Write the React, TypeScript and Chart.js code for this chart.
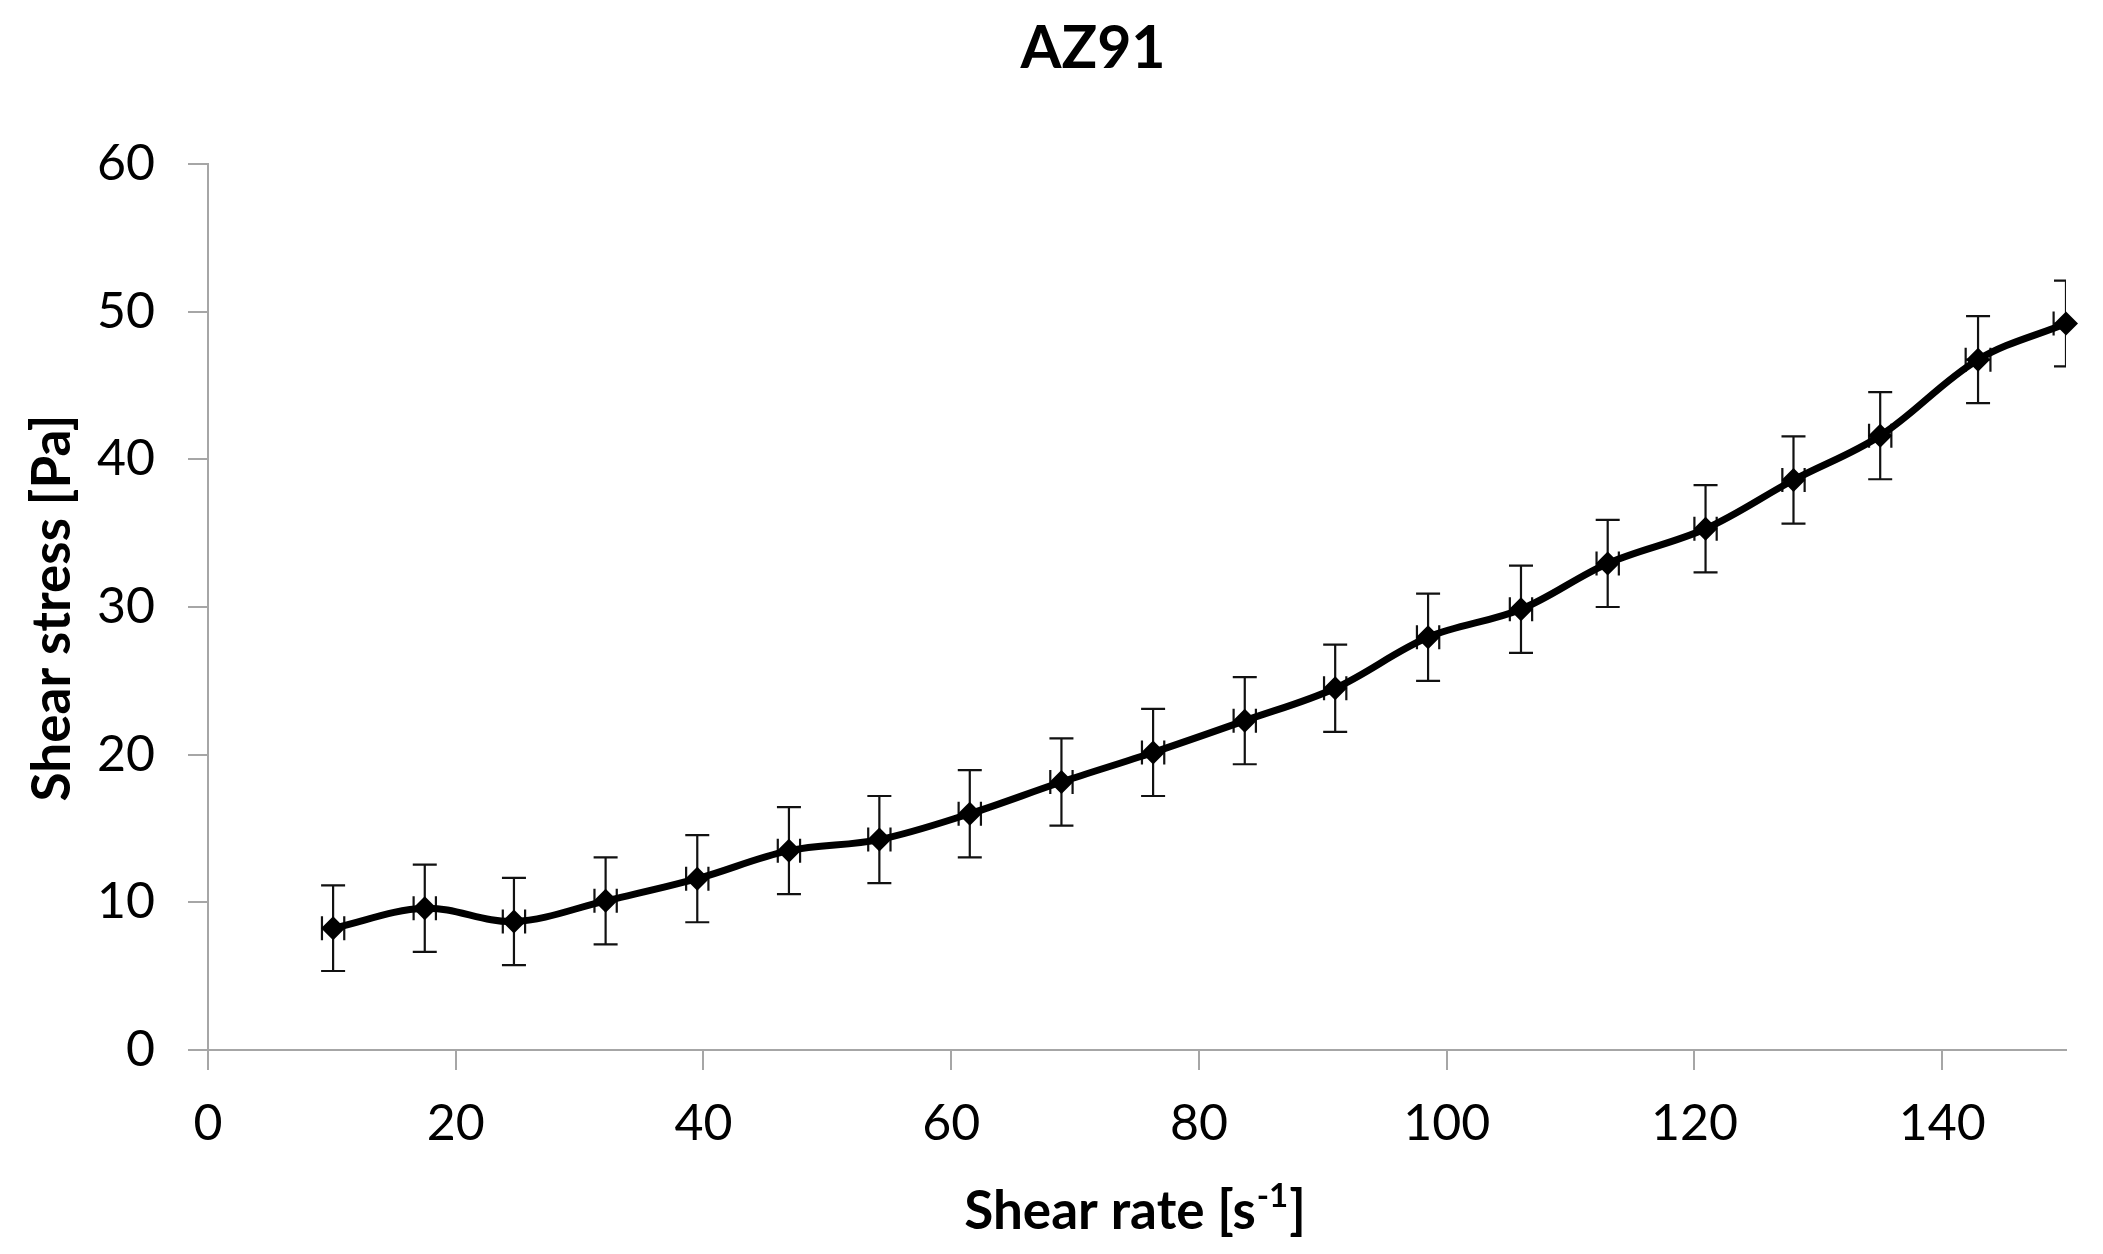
import React, { useEffect, useRef } from 'react';
import { Chart, registerables } from 'chart.js';

Chart.register(...registerables);

// ---- data ----
const shearRate = [10.1, 17.5, 24.7, 32.1, 39.5, 46.9, 54.2, 61.5, 68.9, 76.3, 83.7, 91.0, 98.5, 106.0, 113.0, 120.9, 128.0, 135.0, 142.9, 150.0];
const shearStress = [8.25, 9.6, 8.7, 10.1, 11.6, 13.5, 14.25, 16.0, 18.15, 20.15, 22.3, 24.5, 27.95, 29.85, 32.95, 35.3, 38.6, 41.6, 46.75, 49.2];
const stressErr = [2.9, 2.95, 2.95, 2.95, 2.95, 2.95, 2.95, 2.95, 2.95, 2.95, 2.95, 2.95, 2.95, 2.95, 2.95, 2.95, 2.95, 2.95, 2.95, 2.9];
const rateErr = [0.9, 0.9, 0.9, 0.9, 0.9, 0.9, 0.9, 0.9, 0.9, 0.9, 0.9, 0.9, 0.9, 0.9, 0.9, 0.9, 0.9, 0.9, 1.0, 1.0];

const chartTitle = 'AZ91';
const yTitle = 'Shear stress [Pa]';
const xTitleMain = 'Shear rate [s';
const xTitleSup = '-1';
const xTitleEnd = ']';

const xTickStep = 20;
const yTickStep = 10;

const FONT = 'Lato, "Open Sans", "Noto Sans", sans-serif';
const AXIS_GRAY = '#a6a6a6';

const errorBarPlugin = {
  id: 'errorBars',
  beforeDatasetsDraw(chart: any) {
    const { ctx, chartArea, scales } = chart;
    const xs = scales.x;
    const ys = scales.y;
    ctx.save();
    ctx.beginPath();
    ctx.rect(chartArea.left, chartArea.top, chartArea.right - chartArea.left, chartArea.bottom - chartArea.top);
    ctx.clip();
    ctx.strokeStyle = '#111';
    ctx.lineWidth = 2.2;
    const cap = 12;
    for (let i = 0; i < shearRate.length; i++) {
      const px = xs.getPixelForValue(shearRate[i]);
      const py = ys.getPixelForValue(shearStress[i]);
      const yt = ys.getPixelForValue(shearStress[i] + stressErr[i]);
      const yb = ys.getPixelForValue(shearStress[i] - stressErr[i]);
      const xl = xs.getPixelForValue(shearRate[i] - rateErr[i]);
      const xr = xs.getPixelForValue(shearRate[i] + rateErr[i]);
      ctx.beginPath();
      ctx.moveTo(px, yt); ctx.lineTo(px, yb);
      ctx.moveTo(px - cap, yt); ctx.lineTo(px + cap, yt);
      ctx.moveTo(px - cap, yb); ctx.lineTo(px + cap, yb);
      ctx.moveTo(xl, py); ctx.lineTo(xr, py);
      ctx.moveTo(xl, py - cap); ctx.lineTo(xl, py + cap);
      ctx.moveTo(xr, py - cap); ctx.lineTo(xr, py + cap);
      ctx.stroke();
    }
    ctx.restore();
  },
};

const titlesPlugin = {
  id: 'titles',
  afterDraw(chart: any) {
    const { ctx } = chart;
    ctx.save();
    ctx.fillStyle = '#000';
    // main title
    ctx.font = `bold 59px ${FONT}`;
    ctx.textAlign = 'center';
    ctx.textBaseline = 'alphabetic';
    ctx.fillText(chartTitle, 1093, 68);

    // y title
    ctx.save();
    ctx.translate(70, 608);
    ctx.rotate(-Math.PI / 2);
    ctx.font = `bold 53px ${FONT}`;
    ctx.textAlign = 'center';
    ctx.textBaseline = 'alphabetic';
    ctx.fillText(yTitle, 0, 0);
    ctx.restore();

    // x title with superscript
    const mainFont = `bold 53px ${FONT}`;
    const supFont = `bold 33px ${FONT}`;
    ctx.textAlign = 'left';
    ctx.font = mainFont;
    const w1 = ctx.measureText(xTitleMain).width;
    const w3 = ctx.measureText(xTitleEnd).width;
    ctx.font = supFont;
    const w2 = ctx.measureText(xTitleSup).width;
    const total = w1 + w2 + w3 + 2;
    let x0 = 1135 - total / 2;
    const base = 1229;
    ctx.font = mainFont;
    ctx.fillText(xTitleMain, x0, base);
    x0 += w1 + 1;
    ctx.font = supFont;
    ctx.fillText(xTitleSup, x0, base - 22);
    x0 += w2 + 1;
    ctx.font = mainFont;
    ctx.fillText(xTitleEnd, x0, base);
    ctx.restore();
  },
};

export default function App() {
  const ref = useRef<HTMLCanvasElement | null>(null);

  useEffect(() => {
    if (!ref.current) return;
    const points = shearRate.map((x, i) => ({ x, y: shearStress[i] }));
    const chart = new Chart(ref.current, {
      type: 'line',
      data: {
        datasets: [
          {
            data: points,
            borderColor: '#000',
            backgroundColor: '#000',
            borderWidth: 7,
            pointStyle: 'rectRot',
            pointRadius: 12,
            pointBorderWidth: 0,
            pointBackgroundColor: '#000',
            tension: 0.35,
            clip: false as any,
          },
        ],
      },
      options: {
        animation: false,
        responsive: false,
        devicePixelRatio: 1,
        layout: { padding: { top: 164, right: 37, left: 0, bottom: 0 } },
        plugins: {
          legend: { display: false },
          tooltip: { enabled: false },
          title: { display: false },
        },
        scales: {
          x: {
            type: 'linear',
            min: 0,
            max: 150,
            afterFit: (s: any) => { s.height = 204; },
            ticks: {
              stepSize: xTickStep,
              includeBounds: false,
              color: '#000',
              font: { family: FONT, size: 50 },
              padding: 24,
              maxRotation: 0,
            },
            grid: {
              display: true,
              drawOnChartArea: false,
              drawTicks: true,
              tickLength: 20,
              color: AXIS_GRAY,
              lineWidth: 2,
            },
            border: { display: true, color: AXIS_GRAY, width: 2 },
          },
          y: {
            type: 'linear',
            min: 0,
            max: 60,
            afterFit: (s: any) => { s.width = 208; },
            ticks: {
              stepSize: yTickStep,
              color: '#000',
              font: { family: FONT, size: 50 },
              padding: 33,
            },
            grid: {
              display: true,
              drawOnChartArea: false,
              drawTicks: true,
              tickLength: 20,
              color: AXIS_GRAY,
              lineWidth: 2,
            },
            border: { display: true, color: AXIS_GRAY, width: 2 },
          },
        },
      },
      plugins: [errorBarPlugin, titlesPlugin],
    });
    return () => chart.destroy();
  }, []);

  return (
    <div style={{ position: 'fixed', left: 0, top: 0, width: 2103, height: 1254, background: '#fff' }}>
      <canvas ref={ref} width={2103} height={1254} style={{ width: 2103, height: 1254, display: 'block' }} />
    </div>
  );
}
